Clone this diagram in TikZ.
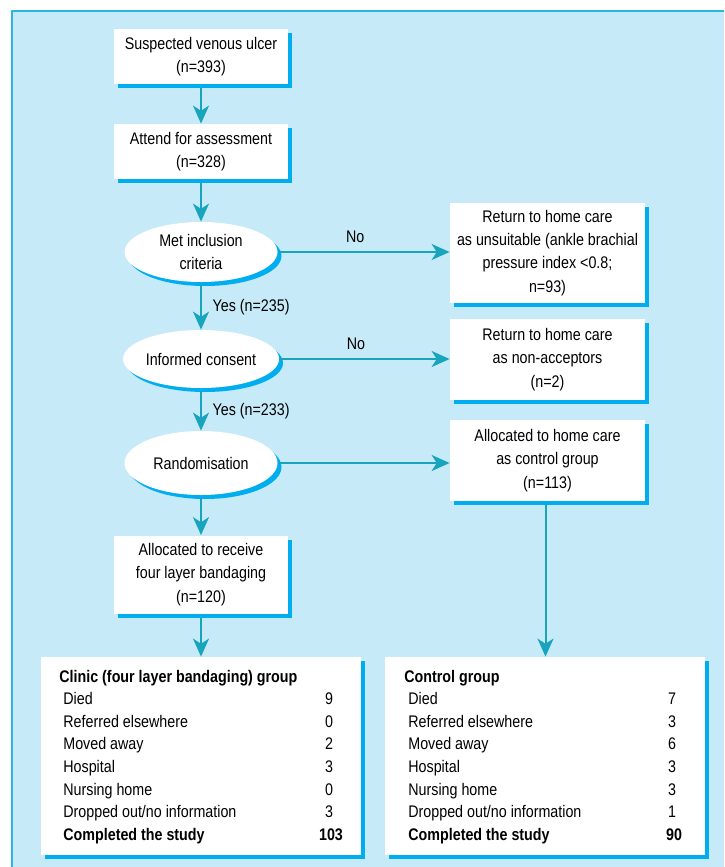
\documentclass[tikz,border=0pt]{standalone}
\usepackage{fontspec}
\setmainfont{Liberation Sans}[FakeStretch=0.85]
\usetikzlibrary{arrows.meta,shadows,shapes.geometric}
\definecolor{panel}{HTML}{C7EAF9}
\definecolor{rim}{HTML}{2BB4E6}
\definecolor{shade}{HTML}{00AEEF}
\definecolor{flow}{HTML}{17A4BC}

\tikzset{
  txt/.style={font=\fontsize{8.4}{11.6}\selectfont,text=black},
  card/.style={txt,fill=white,align=center,inner sep=0pt,
    drop shadow={shadow xshift=2pt,shadow yshift=-2pt,fill=shade,opacity=1}},
  oval/.style={card,ellipse,minimum width=76.5pt,minimum height=30pt},
  flowline/.style={flow,line width=1pt,-{Stealth[length=9pt,width=8pt,inset=2.6pt]}},
  rowtext/.style={txt,anchor=base west,inner sep=0pt},
  numtext/.style={txt,anchor=base,inner sep=0pt},
}

\begin{document}
\begin{tikzpicture}[x=0.5pt,y=-0.5pt,line join=round]
  % canvas 724 x 867 px
  \useasboundingbox (0,0) rectangle (724,867);
  \fill[white] (0,0) rectangle (724,867);
  \fill[panel] (12,11) rectangle (724,867);
  \draw[rim,line width=1pt] (12,867) -- (12,11) -- (724,11);

  % ---- main column ----
  \node[card,minimum width=87pt,minimum height=27.5pt] (susp) at (201,56.5)
    {Suspected venous ulcer\\(n=393)};
  \node[card,minimum width=87pt,minimum height=27.5pt] (attend) at (201,151.5)
    {Attend for assessment\\(n=328)};
  \node[oval] (incl) at (201,252) {Met inclusion\\criteria};
  \node[oval,minimum height=29pt] (consent) at (201,359) {Informed consent};
  \node[oval,minimum height=32pt] (random) at (201,463) {Randomisation};
  \node[card,minimum width=87pt,minimum height=39pt] (clinic) at (201,574.5)
    {Allocated to receive\\four layer bandaging\\(n=120)};

  % ---- right column ----
  \node[card,minimum width=97.5pt,minimum height=50pt] (unsuit) at (547.5,253)
    {Return to home care\\as unsuitable (ankle brachial\\pressure index <0.8;\\n=93)};
  \node[card,minimum width=97.5pt,minimum height=40.5pt] (refuse) at (547.5,359.5)
    {Return to home care\\as non-acceptors\\(n=2)};
  \node[card,minimum width=97.5pt,minimum height=40.5pt] (control) at (547.5,460.5)
    {Allocated to home care\\as control group\\(n=113)};

  % ---- outcome tables ----
  \node[card,minimum width=160pt,minimum height=99pt] (tabA) at (201,756) {};
  \node[card,minimum width=160pt,minimum height=99pt] (tabB) at (545,756) {};

  \node[txt,font=\fontsize{8.4}{11.6}\selectfont\bfseries,anchor=base west,inner sep=0pt]
    (headA) at (59,682) {Clinic (four layer bandaging) group};
  \node[txt,font=\fontsize{8.4}{11.6}\selectfont\bfseries,anchor=base west,inner sep=0pt]
    (headB) at (404,682) {Control group};
  \foreach \lab/\na/\nb [count=\i] in {Died/9/7,Referred elsewhere/0/3,Moved away/2/6,
      Hospital/3/3,Nursing home/0/3,Dropped out\slash no information/3/1}{
    \node[rowtext] (labA\i) at (63,682+\i*22.6) {\lab};
    \node[numtext] (numA\i) at (329,682+\i*22.6) {\na};
    \node[rowtext] (labB\i) at (408,682+\i*22.6) {\lab};
    \node[numtext] (numB\i) at (672,682+\i*22.6) {\nb};
  }
  \node[rowtext,font=\fontsize{8.4}{11.6}\selectfont\bfseries] (labA7) at (63,840) {Completed the study};
  \node[numtext,font=\fontsize{8.4}{11.6}\selectfont\bfseries] (numA7) at (331,840) {103};
  \node[rowtext,font=\fontsize{8.4}{11.6}\selectfont\bfseries] (labB7) at (408,840) {Completed the study};
  \node[numtext,font=\fontsize{8.4}{11.6}\selectfont\bfseries] (numB7) at (674,840) {90};

  % ---- connectors ----
  \draw[flowline] (susp.south) ++(0,4) -- (attend.north);
  \draw[flowline] (attend.south) ++(0,4) -- (incl.north);
  \draw[flowline] (incl.south) ++(0,3) -- node[txt,right=2pt] (yesA) {Yes (n=235)} (consent.north);
  \draw[flowline] (consent.south) ++(0,3) -- node[txt,right=2pt] (yesB) {Yes (n=233)} (random.north);
  \draw[flowline] (random.south) ++(0,3) -- (clinic.north);
  \draw[flowline] (clinic.south) ++(0,4) -- (tabA.north);
  \draw[flowline] (incl.east) -- node[txt,above=1pt,pos=0.45] (noA) {No} (incl.east -| unsuit.west);
  \draw[flowline] (consent.east) -- node[txt,above=1pt,pos=0.45] (noB) {No} (consent.east -| refuse.west);
  \draw[flowline] (random.east) -- (random.east -| control.west);
  \draw[flowline] (control.south) ++(-2,4) -- ([xshift=-1pt]control.south |- tabB.north);
\end{tikzpicture}
\end{document}
